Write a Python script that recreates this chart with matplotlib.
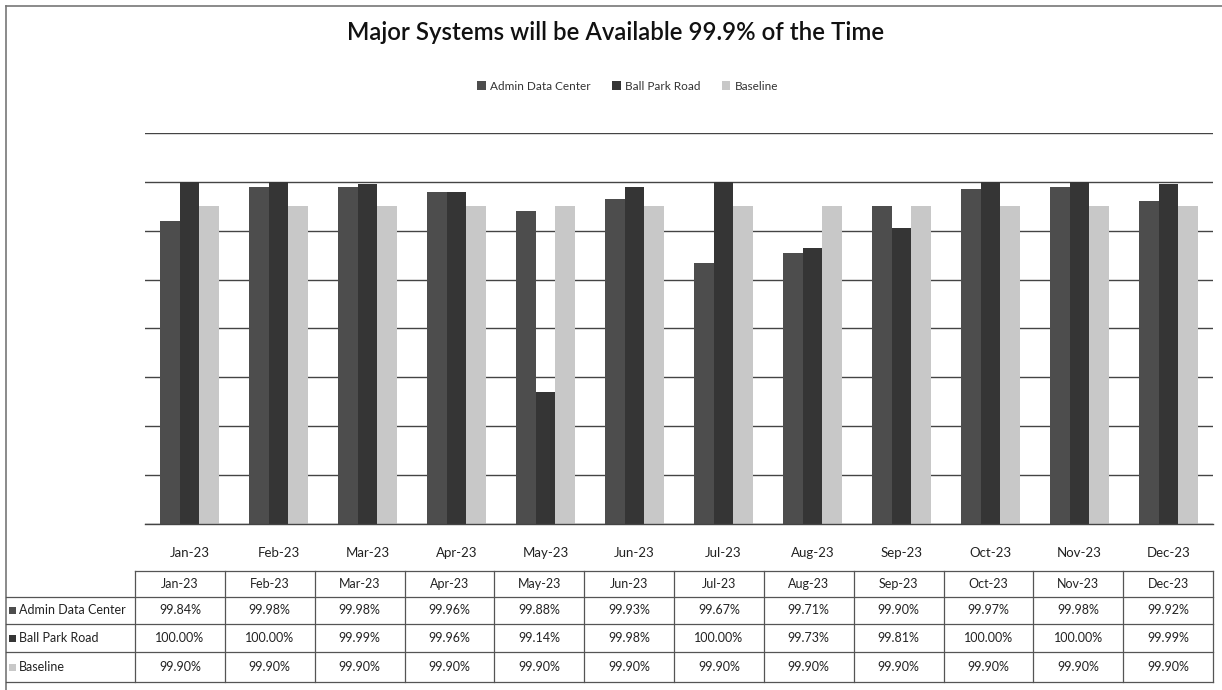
import matplotlib
matplotlib.use("Agg")
import matplotlib.pyplot as plt
from matplotlib.lines import Line2D
from matplotlib.patches import Patch
import numpy as np

plt.rcParams['font.family'] = ['Lato', 'DejaVu Sans']

months = ["Jan-23", "Feb-23", "Mar-23", "Apr-23", "May-23", "Jun-23",
          "Jul-23", "Aug-23", "Sep-23", "Oct-23", "Nov-23", "Dec-23"]
admin = [99.84, 99.98, 99.98, 99.96, 99.88, 99.93, 99.67, 99.71, 99.90, 99.97, 99.98, 99.92]
ballpark = [100.00, 100.00, 99.99, 99.96, 99.14, 99.98, 100.00, 99.73, 99.81, 100.00, 100.00, 99.99]
baseline = [99.90] * 12
series_names = ["Admin Data Center", "Ball Park Road", "Baseline"]
series_colors = ["#4d4d4d", "#353535", "#c8c8c8"]

W, H = 1222, 690
fig = plt.figure(figsize=(W / 100, H / 100), dpi=100)

def fx(px):
    return px / W

def fy(py):
    return 1 - py / H

# outer frame
fig.add_artist(Line2D([fx(6), fx(1222)], [fy(6), fy(6)], color="#777777", lw=1.2))
fig.add_artist(Line2D([fx(6), fx(6)], [fy(6), fy(690)], color="#777777", lw=1.2))

# plot area
left, right, top, bottom = 145, 1213, 133, 524
ax = fig.add_axes([fx(left), fy(bottom), fx(right - left), (bottom - top) / H])
x = np.arange(len(months))
bw = 0.22
series = [admin, ballpark, baseline]
for i, (vals, col) in enumerate(zip(series, series_colors)):
    ax.bar(x + (i - 1) * bw, vals, width=bw, color=col, zorder=2)

ax.set_ylim(98.6, 100.2)
ax.set_xlim(-0.5, len(months) - 0.5)
ax.set_yticks(np.arange(98.6, 100.21, 0.2))
ax.yaxis.grid(True, color="#444444", lw=1.0, zorder=0)
ax.set_axisbelow(True)
ax.tick_params(axis="y", left=False, labelleft=False)
ax.tick_params(axis="x", bottom=False, labelsize=9.5, pad=13, colors="#222222")
ax.set_xticks(x)
ax.set_xticklabels(months)
for s in ["left", "right", "top"]:
    ax.spines[s].set_visible(False)
ax.spines["bottom"].set_color("#444444")
ax.spines["bottom"].set_linewidth(1.0)

# title and legend
fig.text(fx(616), fy(33), "Major Systems will be Available 99.9% of the Time",
         ha="center", va="center", fontsize=17.3, fontweight="semibold", color="#111111")
handles = [Patch(facecolor=c, edgecolor="none") for c in series_colors]
fig.legend(handles, series_names, loc="center", bbox_to_anchor=(fx(628), fy(86)),
           ncol=3, frameon=False, fontsize=8.5, handlelength=0.7, handleheight=0.7,
           columnspacing=1.8, handletextpad=0.4, labelcolor="#333333")

# data table
lab_left, lab_right, tab_right = 6, 135, 1213
col_w = (tab_right - lab_right) / len(months)
row_edges = [571, 597, 624, 652, 682]
line_kw = dict(color="#555555", lw=0.9)
fig.add_artist(Line2D([fx(lab_right), fx(tab_right)], [fy(row_edges[0])] * 2, **line_kw))
for ry in row_edges[1:]:
    fig.add_artist(Line2D([fx(lab_left), fx(tab_right)], [fy(ry)] * 2, **line_kw))
for j in range(len(months) + 1):
    cx = lab_right + j * col_w
    fig.add_artist(Line2D([fx(cx)] * 2, [fy(row_edges[0]), fy(row_edges[-1])], **line_kw))

for j, m in enumerate(months):
    cx = lab_right + (j + 0.5) * col_w
    fig.text(fx(cx), fy((row_edges[0] + row_edges[1]) / 2), m, ha="center",
             va="center", fontsize=9, color="#222222")
    for r, vals in enumerate(series):
        cy = (row_edges[r + 1] + row_edges[r + 2]) / 2
        fig.text(fx(cx), fy(cy), f"{vals[j]:.2f}%", ha="center", va="center",
                 fontsize=9, color="#222222")

for r, (name, col) in enumerate(zip(series_names, series_colors)):
    cy = (row_edges[r + 1] + row_edges[r + 2]) / 2
    fig.patches.append(plt.Rectangle((fx(9), fy(cy) - 3.5 / H), 7 / W, 7 / H,
                                     transform=fig.transFigure, facecolor=col,
                                     edgecolor="none", figure=fig))
    fig.text(fx(19), fy(cy), name, ha="left", va="center", fontsize=9, color="#222222")

fig.savefig("out.png", dpi=100, facecolor="white")
